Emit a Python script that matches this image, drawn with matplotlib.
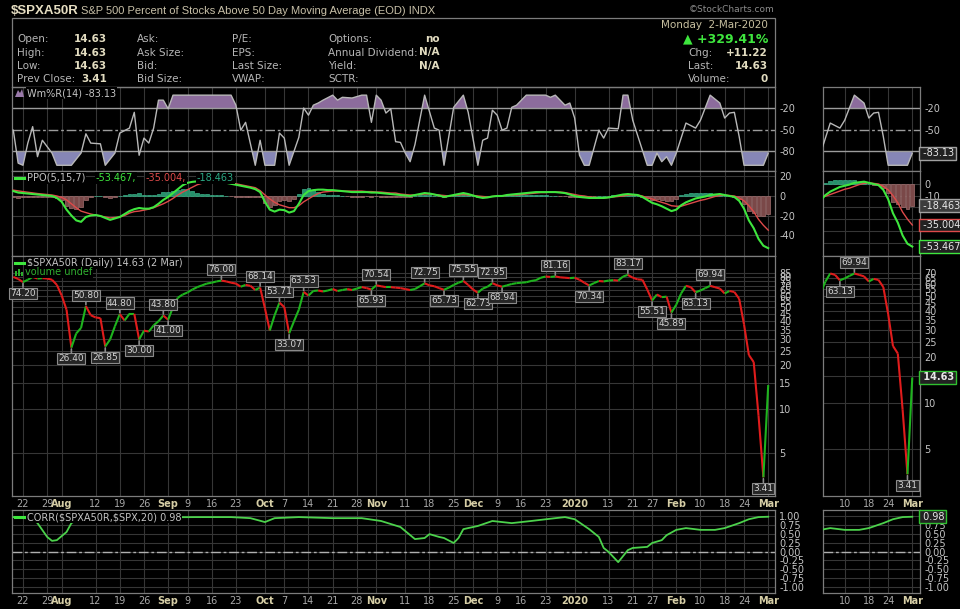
import numpy as np
import pandas as pd
import matplotlib
matplotlib.use("Agg")
import matplotlib.pyplot as plt
from matplotlib.collections import LineCollection
from matplotlib.patches import Rectangle, Polygon
from matplotlib.lines import Line2D
from matplotlib.transforms import blended_transform_factory
from matplotlib.ticker import NullLocator

plt.rcParams['font.family'] = ['DejaVu Sans']

# ---------------------------------------------------------------- data
holidays = ["2019-09-02", "2019-11-28", "2019-12-25", "2020-01-01", "2020-01-20", "2020-02-17"]
dates = pd.bdate_range("2019-07-18", "2020-03-02")
dates = dates[~dates.isin(pd.to_datetime(holidays))]
day = np.arange(len(dates)) - 2          # 0 = 22 Jul 2019

# $SPXA50R daily close (18 Jul 2019 .. 2 Mar 2020)
spxa50r = np.array([
    80.5, 78, 74.20, 77, 80.5, 78.5, 79, 78.5, 77, 71, 60, 48,
    26.40, 33, 36, 50.80, 44, 42.5, 42, 26.85, 30, 37,
    44.80, 40.5, 45, 45, 30.00, 34.5, 34, 37.5, 40, 43.80,
    41.00, 50, 58, 61, 63, 66, 68.5, 70.5, 72.5, 73.5,
    75, 76.00, 75, 73.5, 72.5, 69, 71, 70, 65.5, 68.14,
    49, 34.6, 44, 53.71, 50, 33.07, 40, 48, 63.53, 60,
    64.5, 65, 64, 65, 66.5, 64.5, 65.5, 66.5, 65.5, 67,
    68.6, 67.5, 65.93, 70.54, 69.5, 68.5, 68.5, 68, 67.5, 66.5,
    65.5, 66.5, 69.5, 72.75, 70.5, 69.5, 67.5, 65.73, 68, 71,
    73.5, 75.55, 71, 66, 62.73, 67, 69, 72.95, 70.5, 68.94,
    70.5, 72, 73, 73.5, 74, 75.5, 76.5, 79.5, 81, 80.5,
    81.16, 80, 79.5, 79, 79.5, 77, 73.5, 70.34, 73, 75.5,
    75, 76, 76.5, 76, 81, 83.17, 79.5, 77.5, 77, 66,
    55.51, 61, 58.5, 59, 45.89, 52, 62, 70, 68.5, 63.13,
    65, 67.5, 69.94, 68.5, 67, 62, 64.5, 63.5, 57, 38,
    23.5, 21, 9, 3.41, 14.63])

# PPO(5,15,7) line and signal, daily
ppo_line = np.array([
    5, 3.5, 3, 2.5, 2, 1.5, 1, 0.5, 0, -2, -6, -14,
    -20, -25, -26.5, -21.5, -20, -19.5, -20.5, -22.5, -24.5, -23,
    -21.5, -18.5, -15.5, -13.5, -12.3, -13, -13, -11.5, -8, -4,
    -1, 3, 7, 11, 13.5, 14.5, 15, 15.5, 15.5, 15,
    14.5, 14, 13.5, 12.5, 11.5, 10.5, 9.5, 8.5, 7, 4,
    -6, -14, -16, -14, -14.5, -17, -15.5, -8, 1, 5,
    6, 6.5, 6.5, 6, 6, 5.5, 5, 4.5, 4, 4,
    4, 4, 3.5, 3.5, 3, 2.5, 2, 1.5, 1, 0.5,
    0, 1, 2, 3, 2.5, 1.5, 0.5, -1, 0, 1,
    2, 3, 2, 0.5, -1, -2, -1.5, -0.5, 0, 0,
    1, 1.5, 2, 2.5, 3, 3.5, 4, 4, 4, 4,
    4, 3.5, 3, 1.5, 0, -1, -1.5, -2, -2, -2,
    -2, -1.5, -0.5, 0.5, 1.5, 2, 1.5, 1, -1, -4,
    -7, -8.5, -10.5, -13, -15.5, -14, -9.5, -6.5, -4.5, -2.5,
    -1.5, -0.5, 1, 1.5, 2, 1, 0, -1, -5, -13,
    -25, -33, -44, -51, -53.467])
ppo_signal = np.array([
    6, 5.2, 4.5, 3.8, 3, 2.5, 2, 1.5, 1, 0, -1.5, -4,
    -8, -12, -15.5, -17, -18.5, -19.5, -20.5, -21.5, -22.5, -22,
    -21.5, -20, -17.5, -16, -15.5, -14.5, -13.5, -12, -10, -8,
    -5.5, -2.5, 1, 4, 6.5, 9, 11.5, 13, 13.5, 13.5,
    13.5, 13.5, 13.5, 13, 12.5, 11.5, 10.5, 9.5, 8.5, 5.5,
    1, -3, -6.5, -9, -10.5, -12, -12, -10, -6, -3,
    0, 2.5, 4, 4.5, 5, 5, 5, 5, 5, 5,
    5, 4.5, 4.5, 4, 4, 3.5, 3, 3, 2, 1.5,
    1, 1, 1.5, 2, 2, 1.5, 1, 0.5, 0, 0.5,
    1, 1.5, 1, 0.5, 0, -0.5, -1, -0.5, 0, 0,
    0.5, 1, 1, 1.5, 2, 2.5, 3, 3.5, 3.5, 4,
    4, 4, 3.5, 2.5, 1.5, 0.5, 0, -1, -1.5, -2,
    -2, -1.5, -1, -0.5, 0, 1, 1, 1, 0, -2,
    -3, -5, -6.5, -8, -10, -10.5, -10.5, -9, -7.5, -6,
    -4.5, -3.5, -2, -0.5, 0.5, 1, 0.5, 0, -2, -5,
    -10, -16, -24, -30, -35.004])

# Williams %R(14) at its turning points (trading-day number, value)
wr_day = [-2, -1, 0, 1, 2, 3, 4, 6, 7, 10, 12, 13, 14, 16, 17, 19, 20, 22, 23, 24,
          25, 26, 27, 28, 29, 30, 31, 43, 44, 45, 46, 48, 49, 50, 52, 53, 54, 55, 57, 58,
          59, 60, 61, 62, 64, 65, 66, 68, 70, 71, 72, 73, 74, 75, 76, 77, 78, 79, 80, 81,
          83, 85, 86, 87, 89, 91, 92, 94, 95, 96, 97, 98, 99, 100, 101, 102, 104, 108, 109, 110,
          112, 113, 114, 115, 116, 117, 119, 120, 121, 123, 124, 125, 126, 127, 129, 130, 131, 132, 133, 134,
          135, 137, 139, 140, 142, 144, 145, 146, 147, 148, 149, 153, 154]
wr_val = [-51, -97, -100, -69, -46, -88, -65, -83, -100, -100, -83, -56, -69, -70, -100, -83, -55, -48, -26, -86,
          -62, -69, -48, -9, -9, -21, -2, -2, -16, -51, -40, -100, -65, -100, -100, -55, -62, -100, -61, -20,
          -30, -16, -13, -9, -2, -9, -5, -6, -2, -2, -40, -2, -9, -27, -21, -67, -68, -83, -95, -71,
          -2, -48, -51, -100, -19, -2, -26, -100, -65, -62, -23, -30, -51, -48, -19, -16, -2, -2, -5, -2,
          -16, -13, -34, -86, -100, -100, -51, -62, -48, -49, -2, -2, -37, -58, -100, -100, -83, -95, -88, -100,
          -83, -41, -48, -37, -2, -13, -34, -27, -26, -60, -100, -100, -83.13]

# CORR($SPXA50R,$SPX,20)
corr_day = [-2, 2, 3, 5, 6, 7, 9, 10, 12, 36, 43, 47, 50, 52, 57, 64, 70, 74, 78, 81,
            83, 84, 86, 87, 89, 90, 91, 92, 94, 97, 101, 105, 110, 112, 114, 117, 119, 120, 121, 123,
            125, 126, 129, 130, 132, 133, 135, 137, 140, 143, 145, 148, 150, 152, 154]
corr_val = [0.97, 0.92, 0.80, 0.41, 0.30, 0.32, 0.55, 0.80, 0.95, 0.97, 0.97, 0.94, 0.83, 0.94, 0.97, 0.94, 0.94, 0.86, 0.69, 0.35,
            0.38, 0.49, 0.41, 0.38, 0.24, 0.38, 0.63, 0.66, 0.72, 0.86, 0.80, 0.86, 0.94, 0.97, 0.91, 0.63, 0.41, 0.10, -0.01, -0.30,
            0.04, 0.10, 0.13, 0.24, 0.32, 0.46, 0.61, 0.66, 0.61, 0.61, 0.66, 0.80, 0.91, 0.97, 0.98]

# annotated peaks and troughs (trading-day numbers)
peak_days = [13, 20, 29, 41, 49, 53, 58, 73, 83, 91, 97, 110, 125, 142]
trough_days = [0, 10, 17, 24, 30, 55, 72, 87, 94, 99, 117, 130, 134, 139, 153]

tick_dates = ["2019-07-22", "2019-07-29", "2019-08-01", "2019-08-12", "2019-08-19", "2019-08-26",
              "2019-09-03", "2019-09-09", "2019-09-16", "2019-09-23", "2019-10-01", "2019-10-07",
              "2019-10-14", "2019-10-21", "2019-10-28", "2019-11-01", "2019-11-11", "2019-11-18",
              "2019-11-25", "2019-12-02", "2019-12-09", "2019-12-16", "2019-12-23", "2020-01-02",
              "2020-01-13", "2020-01-21", "2020-01-27", "2020-02-03", "2020-02-10", "2020-02-18",
              "2020-02-24", "2020-03-02"]
tick_labels = ["22", "29", "Aug", "12", "19", "26", "Sep", "9", "16", "23", "Oct", "7", "14", "21",
               "28", "Nov", "11", "18", "25", "Dec", "9", "16", "23", "2020", "13", "21", "27",
               "Feb", "10", "18", "24", "Mar"]
mini_tick_dates = ["2020-02-10", "2020-02-18", "2020-02-24", "2020-03-02"]
mini_tick_labels = ["10", "18", "24", "Mar"]

price_ticks_main = list(range(5, 90, 5))
price_ticks_mini = list(range(5, 75, 5))
ppo_ticks_main = [20, 0, -20, -40]
ppo_ticks_mini = [0, -10, -20, -30, -40, -50]
wr_ticks = [-20, -50, -80]
corr_ticks = [1.0, 0.75, 0.5, 0.25, 0.0, -0.25, -0.5, -0.75, -1.0]

tick_pos = dates.get_indexer(pd.to_datetime(tick_dates)) - 2
mini_pos = dates.get_indexer(pd.to_datetime(mini_tick_dates)) - 2
ppo_hist = ppo_line - ppo_signal

# ---------------------------------------------------------------- style
W, H = 960, 609
BG = 'black'
FRAME = '#7c7c7c'
GRID = '#363636'
TXT = '#c4c4c4'
XTC = '#a8a8a8'
MONTHC = '#d6cea6'
GREEN = '#1eb41e'
RED = '#e01c1c'
PPO_G = '#3ee63e'
PPO_R = '#de4a4a'
HIST_P = '#24906a'
HIST_N = '#7a4848'

fig = plt.figure(figsize=(9.6, 6.09), dpi=100, facecolor=BG)


def add_ax(x0, y0, x1, y1):
    ax = fig.add_axes([x0 / W, 1 - y1 / H, (x1 - x0) / W, (y1 - y0) / H])
    ax.set_facecolor(BG)
    for s in ax.spines.values():
        s.set_color(FRAME)
        s.set_linewidth(0.9)
    ax.yaxis.tick_right()
    ax.tick_params(length=0, labelsize=7, labelcolor=TXT, pad=3)
    ax.set_axisbelow(True)
    return ax


def ftext(x, y, s, **kw):
    kw.setdefault('va', 'center')
    kw.setdefault('fontsize', 7.5)
    return fig.text(x / W, 1 - y / H, s, parse_math=False, **kw)


def setup_x(ax, mini, show):
    pos, lab = (mini_pos, mini_tick_labels) if mini else (tick_pos, tick_labels)
    ax.set_xlim(*((135.5, 155.6) if mini else (-2.27, 155.4)))
    ax.set_xticks(pos)
    if show:
        ax.set_xticklabels(lab)
        for t, s in zip(ax.get_xticklabels(), lab):
            if (not s.isdigit()) or s == '2020':
                t.set_fontweight('bold')
                t.set_color(MONTHC)
            else:
                t.set_color(XTC)
    else:
        ax.set_xticklabels([])
    ax.tick_params(axis='x', length=0, pad=2, labelsize=7)
    ax.grid(axis='x', color=GRID, lw=0.8)


def set_yt(ax, ticks, fmt, hidden=()):
    ax.set_yticks(ticks)
    ax.set_yticklabels(['' if t in hidden else fmt(t) for t in ticks])


def vbox(ax, y, s, ec, bold=False, fc='#222222'):
    tr = blended_transform_factory(ax.transAxes, ax.transData)
    ax.text(1.0, y, ' ' + s, transform=tr, ha='left', va='center', fontsize=7,
            color='#e8e8e8', fontweight='bold' if bold else 'normal', parse_math=False,
            bbox=dict(boxstyle='square,pad=0.15', fc=fc, ec=ec, lw=1.0), zorder=10, clip_on=False)


XM = (12, 775)
XS = (823, 920)
PANELS = dict(wr=(87, 171), ppo=(171, 256), px=(256, 496), corr=(510, 593))

for mini in (False, True):
    x0, x1 = XS if mini else XM

    # ---- Williams %R
    ax = add_ax(x0, PANELS['wr'][0], x1, PANELS['wr'][1])
    wx = np.array(wr_day, float)
    wy = np.array(wr_val, float)
    ax.fill_between(wx, wy, -20, where=wy >= -20, interpolate=True, color='#8c6c9c', lw=0, zorder=2)
    ax.fill_between(wx, wy, -80, where=wy <= -80, interpolate=True, color='#8686b6', lw=0, zorder=2)
    ax.axhline(-20, color='#9c9c9c', lw=1.0, zorder=2.5)
    ax.axhline(-80, color='#9c9c9c', lw=1.0, zorder=2.5)
    ax.axhline(-50, color='#9c9c9c', lw=1.0, ls=(0, (7, 2, 2, 2)), zorder=2.5)
    ax.plot(wx, wy, color='#b8b8b8', lw=1.0, zorder=3)
    ax.set_ylim(-108, 9.4)
    set_yt(ax, wr_ticks, str, hidden=(-80,) if mini else ())
    setup_x(ax, mini, False)
    if mini:
        vbox(ax, wr_val[-1], f"{wr_val[-1]:.2f}", '#a0a0a0')

    # ---- PPO
    ax = add_ax(x0, PANELS['ppo'][0], x1, PANELS['ppo'][1])
    cols = np.where(ppo_hist >= 0, HIST_P, HIST_N)
    ecols = np.where(ppo_hist >= 0, '#3cae88', '#a27070')
    ax.bar(day, ppo_hist, width=0.8, color=cols, edgecolor=ecols, lw=0.5, zorder=2)
    ax.plot(day, ppo_signal, color=PPO_R, lw=1.0, zorder=3)
    ax.plot(day, ppo_line, color=PPO_G, lw=1.5, zorder=4)
    if mini:
        ax.set_ylim(-61.5, 11.1)
        set_yt(ax, ppo_ticks_mini, str, hidden=(-20, -30, -40, -50))
        vbox(ax, ppo_hist[-1], f"{ppo_hist[-1]:.3f}", '#a0a0a0', fc='#3c3c3c')
        vbox(ax, ppo_signal[-1], f"{ppo_signal[-1]:.3f}", PPO_R)
        vbox(ax, ppo_line[-1], f"{ppo_line[-1]:.3f}", PPO_G)
    else:
        ax.set_ylim(-61.5, 25.6)
        set_yt(ax, ppo_ticks_main, str)
    ax.grid(axis='y', color=GRID, lw=0.8)
    setup_x(ax, mini, False)

    # ---- price
    ax = add_ax(x0, PANELS['px'][0], x1, PANELS['px'][1])
    ax.set_yscale('log')
    pts = np.column_stack([day, spxa50r])
    segs = np.stack([pts[:-1], pts[1:]], axis=1)
    seg_cols = np.where(np.diff(spxa50r) >= 0, GREEN, RED)
    ax.add_collection(LineCollection(segs, colors=seg_cols, linewidths=1.5, zorder=3))
    if mini:
        ax.set_ylim(2.46, 91)
        set_yt(ax, price_ticks_mini, str, hidden=(15,))
    else:
        ax.set_ylim(2.54, 112)
        set_yt(ax, price_ticks_main, str)
    ax.yaxis.set_minor_locator(NullLocator())
    ax.grid(axis='y', color=GRID, lw=0.8)
    setup_x(ax, mini, True)
    for dlist, off in ((peak_days, 11), (trough_days, -11)):
        for d in dlist:
            v = spxa50r[d + 2]
            ax.annotate(f"{v:.2f}", xy=(d, v), xytext=(0, off), textcoords='offset pixels',
                        ha='center', va='center', fontsize=6.5, color='#d4d4d4',
                        bbox=dict(boxstyle='square,pad=0.12', fc='#262626', ec='#8a8a8a', lw=0.8),
                        arrowprops=dict(arrowstyle='-', color='#8a8a8a', lw=1.2, shrinkA=0, shrinkB=1),
                        zorder=6)
    if mini:
        vbox(ax, spxa50r[-1], f"{spxa50r[-1]:.2f}", '#30c030', bold=True)

    # ---- correlation
    ax = add_ax(x0, PANELS['corr'][0], x1, PANELS['corr'][1])
    ax.axhline(0, color='#b0b0b0', lw=1.0, ls=(0, (7, 2, 2, 2)), zorder=2)
    ax.plot(corr_day, corr_val, color='#4cd24c', lw=1.3, zorder=3)
    ax.set_ylim(-1.17, 1.17)
    set_yt(ax, corr_ticks, lambda t: f"{t:.2f}", hidden=(1.0,) if mini else ())
    ax.grid(axis='y', color=GRID, lw=0.8)
    setup_x(ax, mini, True)
    if mini:
        vbox(ax, corr_val[-1], f"{corr_val[-1]:.2f}", '#30c030')

# ---------------------------------------------------------------- header
fig.add_artist(Rectangle((12 / W, 1 - 87 / H), 763 / W, 69 / H, transform=fig.transFigure,
                         fill=False, ec=FRAME, lw=0.9))
ftext(11, 11, "$SPXA50R", fontsize=9.5, fontweight='bold', color='#e6dec2',
      family=['Liberation Sans', 'DejaVu Sans'])
ftext(81, 11.5, "S&P 500 Percent of Stocks Above 50 Day Moving Average (EOD) INDX", fontsize=8,
      color='#c8c0a8', family=['Liberation Sans', 'DejaVu Sans'])
ftext(775, 10, "\u00a9StockCharts.com", fontsize=6.5, color='#8c8c8c', ha='right')

LBL = '#b6b6b6'
VAL = '#e2dcc0'
rows = [39, 52.5, 66, 79.5]
col1 = ["Open:", "High:", "Low:", "Prev Close:"]
col1v = ["14.63", "14.63", "14.63", "3.41"]
col2 = ["Ask:", "Ask Size:", "Bid:", "Bid Size:"]
col3 = ["P/E:", "EPS:", "Last Size:", "VWAP:"]
col4 = ["Options:", "Annual Dividend:", "Yield:", "SCTR:"]
col4v = ["no", "N/A", "N/A", ""]
for i, y in enumerate(rows):
    ftext(17, y, col1[i], color=LBL)
    ftext(107, y, col1v[i], color=VAL, fontweight='bold', ha='right')
    ftext(137, y, col2[i], color=LBL)
    ftext(232, y, col3[i], color=LBL)
    ftext(328, y, col4[i], color=LBL)
    ftext(440, y, col4v[i], color=VAL, fontweight='bold', ha='right')

ftext(768, 25, "Monday  2-Mar-2020", color='#c8c0a0', ha='right')
ftext(768, 39, "\u25b2 +329.41%", color='#3ee63e', fontweight='bold', fontsize=9, ha='right')
for y, lab, val in ((52.5, "Chg:", "+11.22"), (66, "Last:", "14.63"), (79.5, "Volume:", "0")):
    ftext(688, y, lab, color=LBL)
    ftext(768, y, val, color=VAL, fontweight='bold', ha='right')

# ---------------------------------------------------------------- panel legends
BLK = dict(fc='black', ec='none', pad=0.6)
fig.add_artist(Polygon([(15 / W, 1 - 97 / H), (18 / W, 1 - 90 / H), (20 / W, 1 - 93 / H),
                        (22 / W, 1 - 89 / H), (24 / W, 1 - 97 / H)], closed=True,
                       transform=fig.transFigure, fc='#9a7aaa', ec='none'))
ftext(27, 93, "Wm%R(14) -83.13", fontsize=7, color=TXT, bbox=BLK)


def legend_dash(y):
    fig.add_artist(Line2D([15 / W, 24 / W], [1 - y / H, 1 - y / H], transform=fig.transFigure,
                          color='#3ee63e', lw=2.2))


legend_dash(178)
ftext(27, 178, "PPO(5,15,7)", fontsize=7, color=TXT, bbox=BLK)
ftext(96, 178, "-53.467,", fontsize=7, color='#3ee63e', bbox=BLK)
ftext(146, 178, "-35.004,", fontsize=7, color=PPO_R, bbox=BLK)
ftext(197, 178, "-18.463", fontsize=7, color='#2aa884', bbox=BLK)

legend_dash(263)
ftext(27, 263, "$SPXA50R (Daily) 14.63 (2 Mar)", fontsize=7, color=TXT, bbox=BLK)
for k, hgt in enumerate((5, 7, 4)):
    fig.add_artist(Rectangle(((15 + 3 * k) / W, 1 - 276 / H), 2 / W, hgt / H,
                             transform=fig.transFigure, fc='#2cb02c', ec='none'))
ftext(25, 272, "volume undef", fontsize=7, color='#30b030', bbox=BLK)

legend_dash(517)
ftext(27, 517, "CORR($SPXA50R,$SPX,20) 0.98", fontsize=7, color=TXT, bbox=BLK)

fig.savefig("out.png", dpi=100, facecolor=BG)
